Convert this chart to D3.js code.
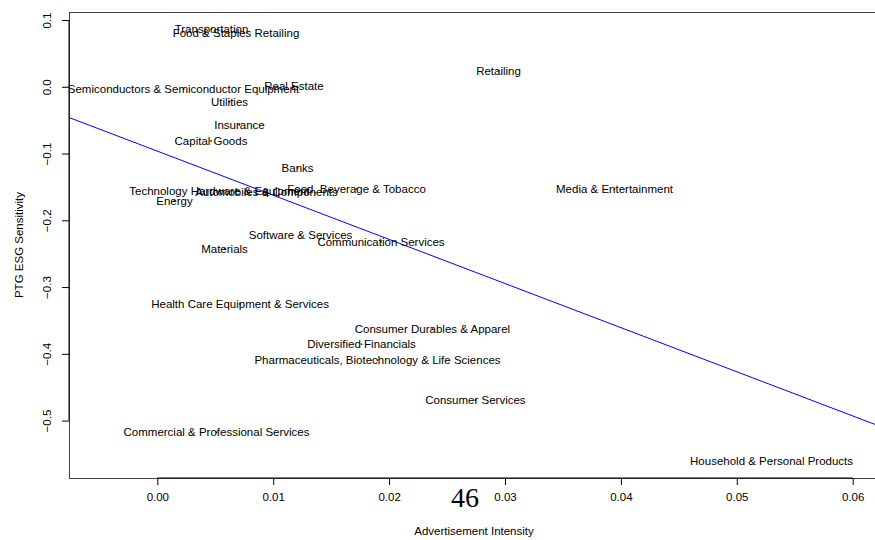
<!DOCTYPE html>
<html>
<head>
<meta charset="utf-8">
<script src="https://cdn.jsdelivr.net/npm/d3@7"></script>
<style>
  body { margin: 0; background: #fff; }
  text { font-family: "Liberation Sans", Arial, sans-serif; fill: #000; }
</style>
</head>
<body>
<div id="chart"></div>
<script>
// industry groups, advertisement intensity (x) and PTG ESG sensitivity (y)
const sectors = [
  'Transportation', 'Food & Staples Retailing', 'Retailing',
  'Semiconductors & Semiconductor Equipment', 'Real Estate', 'Utilities',
  'Insurance', 'Capital Goods', 'Banks', 'Food, Beverage & Tobacco',
  'Media & Entertainment', 'Technology Hardware & Equipment',
  'Automobiles & Components', 'Energy', 'Software & Services',
  'Communication Services', 'Materials', 'Health Care Equipment & Services',
  'Consumer Durables & Apparel', 'Diversified Financials',
  'Pharmaceuticals, Biotechnology & Life Sciences', 'Consumer Services',
  'Commercial & Professional Services', 'Household & Personal Products'
];
const adIntensity = [
  0.00468, 0.00679, 0.02944, 0.00226, 0.01179, 0.00623,
  0.00709, 0.00463, 0.0121, 0.01719, 0.03945, 0.00536,
  0.00942, 0.00148, 0.01236, 0.0193, 0.0058, 0.00714,
  0.02374, 0.01762, 0.019, 0.02745, 0.00511, 0.053
];
const esgSensitivity = [
  0.087, 0.081, 0.024, -0.003, 0.0015, -0.0225,
  -0.057, -0.081, -0.1215, -0.153, -0.153, -0.156,
  -0.1575, -0.171, -0.222, -0.2325, -0.243, -0.3255,
  -0.363, -0.3855, -0.4095, -0.4695, -0.5175, -0.561
];
// fitted regression line
const fitIntercept = -0.0964;
const fitSlope = -6.61;

const xTicks = [0, 0.01, 0.02, 0.03, 0.04, 0.05, 0.06];
const yTicks = [0.1, 0.0, -0.1, -0.2, -0.3, -0.4, -0.5];
const pageNumber = '46';

const width = 875, height = 540;
const margin = {top: 12, right: -4, bottom: 62, left: 69};

const svg = d3.select('#chart').append('svg')
    .attr('width', width)
    .attr('height', height);

const x = d3.scaleLinear()
    .domain([-0.00762, 0.06227])
    .range([margin.left, width - margin.right]);

const y = d3.scaleLinear()
    .domain([-0.586, 0.112])
    .range([height - margin.bottom, margin.top]);

svg.append('defs').append('clipPath')
    .attr('id', 'plot-clip')
  .append('rect')
    .attr('x', x.range()[0])
    .attr('y', margin.top)
    .attr('width', x.range()[1] - x.range()[0])
    .attr('height', y.range()[0] - y.range()[1]);

// regression line
const xd = x.domain();
svg.append('line')
    .attr('clip-path', 'url(#plot-clip)')
    .attr('x1', x(xd[0]))
    .attr('y1', y(fitIntercept + fitSlope * xd[0]))
    .attr('x2', x(xd[1]))
    .attr('y2', y(fitIntercept + fitSlope * xd[1]))
    .attr('stroke', '#0000ff')
    .attr('stroke-width', 1);

// point markers (tiny dots)
const pts = sectors.map((s, i) => ({name: s, ax: adIntensity[i], esg: esgSensitivity[i]}));

svg.append('g')
    .selectAll('rect')
    .data(pts)
  .join('rect')
    .attr('x', d => x(d.ax) - 0.75)
    .attr('y', d => y(d.esg) - 0.75)
    .attr('width', 1.5)
    .attr('height', 1.5)
    .attr('fill', '#000');

// labels
svg.append('g')
    .selectAll('text')
    .data(pts)
  .join('text')
    .attr('x', d => x(d.ax))
    .attr('y', d => y(d.esg))
    .attr('dy', '0.35em')
    .attr('text-anchor', 'middle')
    .style('font-size', '11.5px')
    .text(d => d.name);

// plot box
svg.append('rect')
    .attr('x', x.range()[0] + 0.5)
    .attr('y', margin.top + 0.5)
    .attr('width', x.range()[1] - x.range()[0])
    .attr('height', y.range()[0] - y.range()[1])
    .attr('fill', 'none')
    .attr('stroke', '#444')
    .attr('stroke-width', 1);

// x axis
const xAxis = d3.axisBottom(x)
    .tickValues(xTicks)
    .tickFormat(d3.format('.2f'))
    .tickSizeInner(7)
    .tickSizeOuter(0)
    .tickPadding(8);

const gx = svg.append('g')
    .attr('transform', `translate(0,${y.range()[0]})`)
    .call(xAxis);
gx.select('.domain').remove();
gx.append('line')
    .attr('x1', x(xTicks[0]))
    .attr('x2', x(xTicks[xTicks.length - 1]))
    .attr('stroke', '#000');
gx.selectAll('text')
    .style('font-size', '11.5px')
    .style('font-family', '"Liberation Sans", Arial, sans-serif')
    .attr('fill', '#000');

// y axis
const yAxis = d3.axisLeft(y)
    .tickValues(yTicks)
    .tickFormat(d => d3.format('.1f')(d).replace('-', '\u2212'))
    .tickSizeInner(7)
    .tickSizeOuter(0);

const gy = svg.append('g')
    .attr('transform', `translate(${x.range()[0]},0)`)
    .call(yAxis);
gy.select('.domain').remove();
gy.append('line')
    .attr('y1', y(yTicks[0]))
    .attr('y2', y(yTicks[yTicks.length - 1]))
    .attr('stroke', '#000');
gy.selectAll('.tick text')
    .attr('x', null)
    .attr('dy', null)
    .attr('text-anchor', 'middle')
    .attr('transform', 'translate(-18,0) rotate(-90)')
    .style('font-size', '11.5px')
    .style('font-family', '"Liberation Sans", Arial, sans-serif')
    .attr('fill', '#000');

// axis titles
svg.append('text')
    .attr('x', (x.range()[0] + x.range()[1]) / 2)
    .attr('y', 535)
    .attr('text-anchor', 'middle')
    .style('font-size', '11.5px')
    .text('Advertisement Intensity');

svg.append('text')
    .attr('transform', `translate(23,${(y.range()[0] + y.range()[1]) / 2}) rotate(-90)`)
    .attr('text-anchor', 'middle')
    .style('font-size', '11.5px')
    .text('PTG ESG Sensitivity');

// page number
svg.append('text')
    .attr('x', 465)
    .attr('y', 507)
    .attr('text-anchor', 'middle')
    .style('font-family', '"Liberation Serif", "Times New Roman", serif')
    .style('font-size', '28px')
    .text(pageNumber);
</script>
</body>
</html>
